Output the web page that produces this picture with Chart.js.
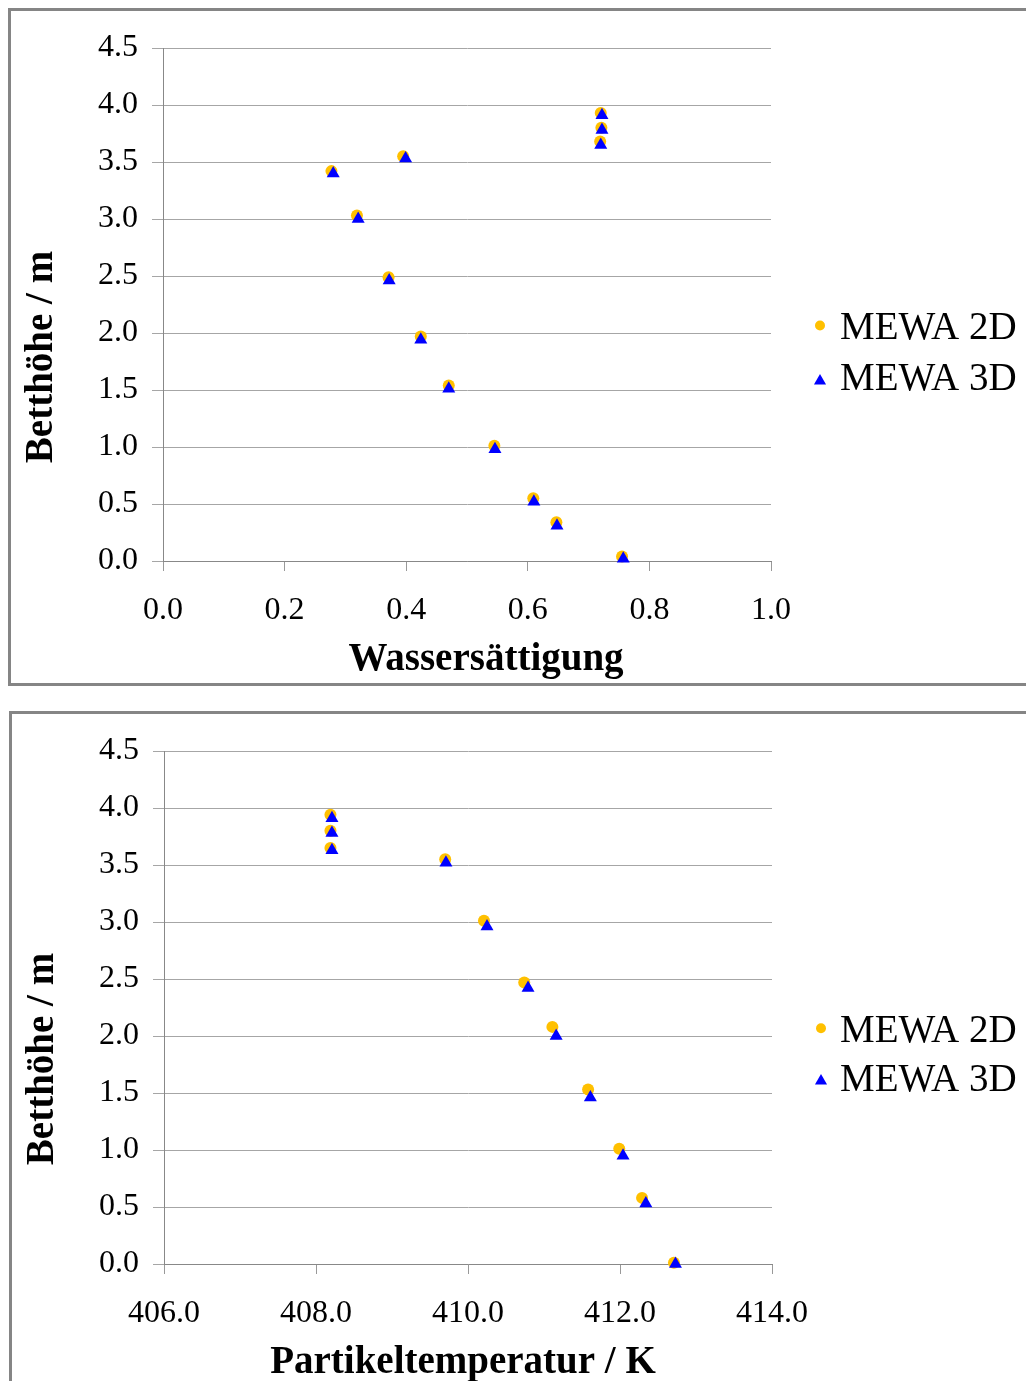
<!DOCTYPE html>
<html><head><meta charset="utf-8">
<script src="https://cdn.jsdelivr.net/npm/chart.js@4.4.1/dist/chart.umd.min.js"></script>
<style>
html,body{margin:0;padding:0;background:#fff;width:1026px;height:1381px;overflow:hidden;position:relative;}
.frame{position:absolute;border:3px solid #858585;box-sizing:border-box;}
canvas{position:absolute;left:0;}
</style></head><body>
<div class="frame" style="left:8px;top:8px;width:1040px;height:678px"></div>
<div class="frame" style="left:9px;top:711px;width:1040px;height:700px"></div>
<canvas id="c1" width="1026" height="700" style="top:0"></canvas>
<canvas id="c2" width="1026" height="681" style="top:700px"></canvas>
<script>
// ---- data: chart 1 (Wassersättigung) ----
const seriesLabels = ['MEWA 2D', 'MEWA 3D'];
const satHeight2D = [0.04, 0.34, 0.55, 1.01, 1.54, 1.97, 2.49, 3.03, 3.42, 3.55, 3.68, 3.80, 3.93];
const sat2D       = [0.755, 0.647, 0.609, 0.545, 0.470, 0.424, 0.371, 0.319, 0.277, 0.395, 0.719, 0.721, 0.720];
const satHeight3D = [0.02, 0.31, 0.52, 0.98, 1.51, 1.94, 2.46, 3.00, 3.40, 3.53, 3.65, 3.78, 3.91];
const sat3D       = [0.757, 0.648, 0.610, 0.546, 0.470, 0.424, 0.372, 0.321, 0.280, 0.399, 0.720, 0.722, 0.722];
// ---- data: chart 2 (Partikeltemperatur) ----
const tempHeight2D = [0.01, 0.58, 1.01, 1.53, 2.08, 2.47, 3.01, 3.55, 3.65, 3.80, 3.94];
const temp2D       = [412.71, 412.29, 411.99, 411.58, 411.11, 410.74, 410.21, 409.70, 408.19, 408.19, 408.19];
const tempHeight3D = [0.00, 0.53, 0.95, 1.46, 2.00, 2.42, 2.96, 3.52, 3.63, 3.78, 3.91];
const temp3D       = [412.73, 412.34, 412.04, 411.61, 411.16, 410.79, 410.25, 409.71, 408.21, 408.21, 408.21];
// ---- tick values ----
const heightTicks = [0.0, 0.5, 1.0, 1.5, 2.0, 2.5, 3.0, 3.5, 4.0, 4.5];
const satTicks = [0.0, 0.2, 0.4, 0.6, 0.8, 1.0];
const tempTicks = [406.0, 408.0, 410.0, 412.0, 414.0];
// ---- titles ----
const yTitleText = 'Betthöhe / m';
const xTitle1 = 'Wassersättigung';
const xTitle2 = 'Partikeltemperatur / K';

const SERIF = '"Liberation Serif", "Times New Roman", serif';

const decor = {
  id: 'decor',
  afterDraw(chart, args, o) {
    const ctx = chart.ctx;
    ctx.save();
    ctx.fillStyle = '#000';
    ctx.font = 'bold 39px ' + SERIF;
    ctx.textAlign = 'center';
    ctx.textBaseline = 'alphabetic';
    ctx.fillText(o.xTitle.text, o.xTitle.x, o.xTitle.y);
    ctx.save();
    ctx.translate(o.yTitle.x, o.yTitle.y);
    ctx.rotate(-Math.PI / 2);
    ctx.fillText(o.yTitle.text, 0, 0);
    ctx.restore();
    ctx.font = '39px ' + SERIF;
    ctx.textAlign = 'left';
    const L = o.legend;
    chart.data.datasets.forEach((ds, i) => {
      ctx.fillStyle = ds.backgroundColor;
      if (Chart.helpers && Chart.helpers.drawPoint) {
        Chart.helpers.drawPoint(ctx, {pointStyle: ds.pointStyle, radius: L.radius[i], rotation: 0, borderWidth: 0}, L.markerX, L.markerY[i]);
      }
      ctx.fillStyle = '#000';
      ctx.fillText(ds.label, L.textX, L.baseline[i]);
    });
    ctx.restore();
  }
};

function makeChart(id, cfg) {
  const ctx = document.getElementById(id);
  const datasets = [
    {label: seriesLabels[0], data: cfg.x2.map((v, i) => ({x: v, y: cfg.h2[i]})),
     pointStyle: 'circle', pointRadius: 6, backgroundColor: '#ffc000', borderColor: '#ffc000',
     pointBorderWidth: 0, order: 1, clip: false, showLine: false},
    {label: seriesLabels[1], data: cfg.x3.map((v, i) => ({x: v, y: cfg.h3[i]})),
     pointStyle: 'triangle', pointRadius: 7.5, backgroundColor: '#0000ff', borderColor: '#0000ff',
     pointBorderWidth: 0, order: 0, clip: false, showLine: false}
  ];
  const chart = new Chart(ctx, {
    type: 'scatter',
    data: {datasets},
    options: {
      responsive: false, animation: false, events: [],
      layout: {padding: {left: 0, top: 0, right: 0, bottom: 0}},
      plugins: {legend: {display: false}, tooltip: {enabled: false}, decor: cfg.decor},
      scales: {
        x: {
          type: 'linear', position: 'bottom', min: cfg.xTicks[0], max: cfg.xTicks[cfg.xTicks.length - 1],
          afterBuildTicks: s => { s.ticks = cfg.xTicks.map(v => ({value: v})); },
          ticks: {font: {family: SERIF, size: 32}, color: '#000', padding: 20, maxRotation: 0, autoSkip: false,
                  callback: v => Number(v).toFixed(1)},
          grid: {drawOnChartArea: false, drawTicks: true, tickLength: 10, tickColor: '#999', tickWidth: 1},
          border: {display: true, color: '#888', width: 1}
        },
        y: {
          type: 'linear', position: 'left', min: 0, max: 4.5,
          afterBuildTicks: s => { s.ticks = heightTicks.map(v => ({value: v})); },
          ticks: {font: {family: SERIF, size: 32}, color: '#000', padding: 14, autoSkip: false,
                  callback: v => Number(v).toFixed(1)},
          grid: {color: '#a6a6a6', lineWidth: 1, drawTicks: true, tickLength: 11, tickColor: '#a6a6a6'},
          border: {display: true, color: '#888', width: 1}
        }
      }
    },
    plugins: [decor]
  });
  const t = cfg.target;
  for (let k = 0; k < 6; k++) {
    const ca = chart.chartArea;
    const p = chart.options.layout.padding;
    const d = {l: t.left - ca.left, t: t.top - ca.top, r: ca.right - t.right, b: ca.bottom - t.bottom};
    if (Math.abs(d.l) < 0.5 && Math.abs(d.t) < 0.5 && Math.abs(d.r) < 0.5 && Math.abs(d.b) < 0.5) break;
    chart.options.layout.padding = {left: p.left + d.l, top: p.top + d.t, right: p.right + d.r, bottom: p.bottom + d.b};
    chart.update();
  }
  return chart;
}

makeChart('c1', {
  x2: sat2D, h2: satHeight2D, x3: sat3D, h3: satHeight3D, xTicks: satTicks,
  target: {left: 163, top: 48, right: 771, bottom: 561},
  decor: {
    xTitle: {text: xTitle1, x: 486, y: 670},
    yTitle: {text: yTitleText, x: 52, y: 357},
    legend: {markerX: 820, markerY: [325.5, 381], radius: [5, 7], textX: 840, baseline: [339, 390]}
  }
});

makeChart('c2', {
  x2: temp2D, h2: tempHeight2D, x3: temp3D, h3: tempHeight3D, xTicks: tempTicks,
  target: {left: 164, top: 51, right: 772, bottom: 564},
  decor: {
    xTitle: {text: xTitle2, x: 463, y: 673},
    yTitle: {text: yTitleText, x: 53, y: 359},
    legend: {markerX: 821, markerY: [328.3, 381], radius: [5, 7], textX: 840, baseline: [342, 391]}
  }
});
</script></body></html>
